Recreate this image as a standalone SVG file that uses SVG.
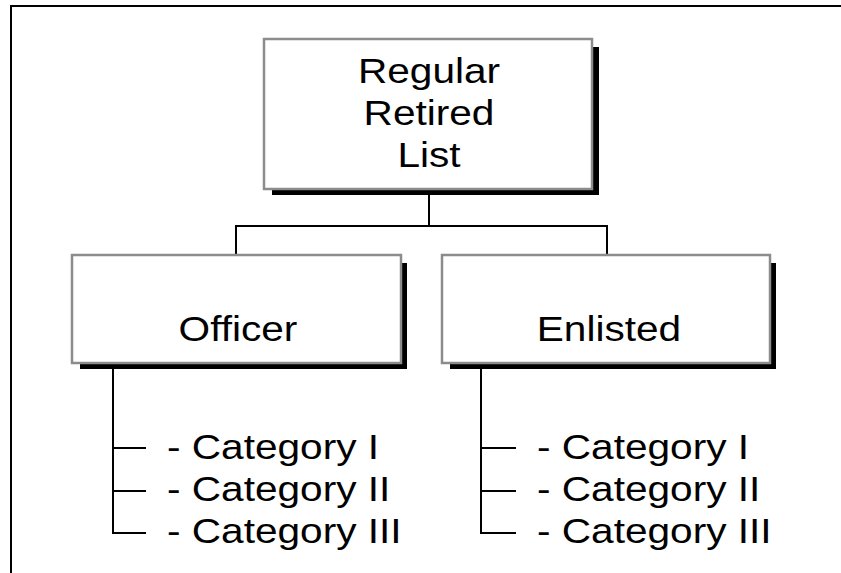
<svg xmlns="http://www.w3.org/2000/svg" width="841" height="573" viewBox="0 0 841 573">
<style>
.box{fill:#fff;stroke:#8c8c8c;stroke-width:2.5}
.sh{fill:#000}
.ln{fill:none;stroke:#000;stroke-width:2}
.t{font-family:"Liberation Sans",Arial,sans-serif;font-size:35px;fill:#000}
.m{text-anchor:middle}
</style>
<rect width="841" height="573" fill="#fff"/>
<g id="frame"><path class="ln" d="M11,573 V6 H841"/></g>
<g id="connectors">
<path class="ln" d="M429,190 V226 M236,254 V226 H607 V254"/>
<path class="ln" d="M113,369 V533 H146 M113,448 H146 M113,491 H146"/>
<path class="ln" d="M481,369 V533 H516 M481,448 H516 M481,491 H516"/>
</g>
<g id="root">
<rect class="sh" x="272" y="47" width="327" height="148"/>
<rect class="box" x="264" y="39" width="328" height="150"/>
<text class="t m" transform="translate(429,83) scale(1.16,1)">Regular</text>
<text class="t m" transform="translate(429,125) scale(1.16,1)">Retired</text>
<text class="t m" transform="translate(429,167) scale(1.16,1)">List</text>
</g>
<g id="officer">
<rect class="sh" x="80" y="263" width="327" height="106"/>
<rect class="box" x="72" y="255" width="329" height="108"/>
<text class="t m" transform="translate(238,341) scale(1.16,1)">Officer</text>
</g>
<g id="enlisted">
<rect class="sh" x="450" y="263" width="326" height="106"/>
<rect class="box" x="442" y="255" width="328" height="108"/>
<text class="t m" transform="translate(609,341) scale(1.16,1)">Enlisted</text>
</g>
<g id="officer-list">
<text class="t" transform="translate(167,459) scale(1.16,1)">- Category I</text>
<text class="t" transform="translate(167,501) scale(1.16,1)">- Category II</text>
<text class="t" transform="translate(167,543) scale(1.16,1)">- Category III</text>
</g>
<g id="enlisted-list">
<text class="t" transform="translate(537,459) scale(1.16,1)">- Category I</text>
<text class="t" transform="translate(537,501) scale(1.16,1)">- Category II</text>
<text class="t" transform="translate(537,543) scale(1.16,1)">- Category III</text>
</g>
</svg>
